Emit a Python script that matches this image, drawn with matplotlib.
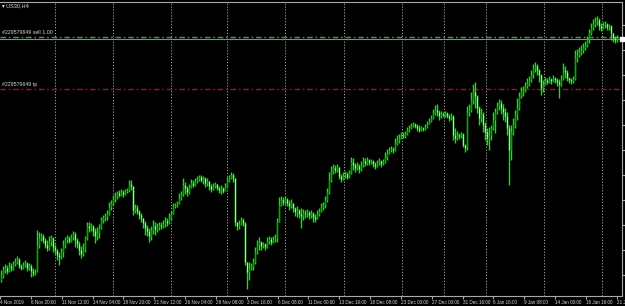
import numpy as np
import matplotlib
matplotlib.use('Agg')
from matplotlib import pyplot as plt
import matplotlib.transforms as mtransforms

# US30 H4 candles (price scale is estimated)
first_open = 27200
closes = [
    27240, 27300, 27320, 27290, 27340, 27320, 27360, 27380, 27410, 27340,
    27320, 27350, 27370, 27320, 27340, 27290, 27270, 27280, 27550, 27620,
    27640, 27600, 27550, 27520, 27580, 27620, 27530, 27500, 27450, 27430,
    27480, 27550, 27600, 27620, 27590, 27630, 27660, 27600, 27560, 27500,
    27460, 27510, 27620, 27740, 27720, 27740, 27690, 27640, 27670, 27720,
    27800, 27820, 27840, 27870, 27930, 27970, 28010, 28040, 28070, 28050,
    28080, 28060, 28090, 28100, 28160, 28140, 27900, 27920, 27890, 27850,
    27820, 27770, 27720, 27690, 27640, 27700, 27740, 27710, 27730, 27750,
    27740, 27760, 27790, 27770, 27820, 27860, 27940, 27950, 27960, 28020,
    28060, 28150, 28120, 28080, 28130, 28170, 28150, 28190, 28210, 28230,
    28200, 28220, 28170, 28190, 28140, 28110, 28140, 28160, 28120, 28100,
    28120, 28090, 28140, 28190, 28220, 28250, 28220, 27780, 27740, 27760,
    27800, 27770, 27380, 27280, 27320, 27340, 27380, 27480, 27550, 27580,
    27540, 27560, 27530, 27590, 27610, 27580, 27610, 27620, 27780, 27950,
    28000, 27980, 28010, 27970, 27940, 27970, 27920, 27880, 27900, 27860,
    27840, 27870, 27860, 27880, 27850, 27870, 27830, 27810, 27860, 27890,
    27930, 27950, 28000, 28080, 28200, 28280, 28320, 28300, 28330, 28240,
    28210, 28240, 28260, 28230, 28270, 28380, 28350, 28320, 28340, 28310,
    28350, 28390, 28370, 28400, 28380, 28390, 28360, 28340, 28370, 28390,
    28360, 28380, 28430, 28470, 28500, 28510, 28500, 28560, 28600, 28620,
    28650, 28640, 28660, 28700, 28720, 28740, 28760, 28740, 28720, 28700,
    28720, 28710, 28730, 28760, 28790, 28820, 28870, 28900, 28880, 28840,
    28860, 28850, 28870, 28840, 28820, 28840, 28650, 28620, 28650, 28640,
    28660, 28550, 28520, 28880, 28900, 29000, 29080, 29040, 28920, 28820,
    28860, 28750, 28680, 28620, 28650, 28720, 28800, 28880, 28940, 28970,
    28920, 28880, 28840, 28720, 28500, 28680, 28750, 28850, 28920, 29040,
    29080, 29100, 29140, 29170, 29200, 29250, 29320, 29340, 29300, 29250,
    29120, 29160, 29200, 29180, 29210, 29190, 29220, 29200, 29180, 29160,
    29210, 29300, 29280, 29220, 29200, 29190, 29210, 29420, 29450, 29480,
    29500, 29530, 29550, 29600, 29670, 29720, 29760, 29790, 29800, 29740,
    29720, 29750, 29760, 29730, 29740, 29670, 29620, 29600, 29620,
]
highs = [
    27300, 27340, 27360, 27350, 27380, 27370, 27390, 27420, 27440, 27420,
    27360, 27380, 27400, 27380, 27370, 27360, 27320, 27310, 27700, 27680,
    27670, 27660, 27620, 27600, 27640, 27650, 27630, 27560, 27510, 27480,
    27520, 27600, 27630, 27650, 27640, 27660, 27690, 27680, 27620, 27590,
    27540, 27570, 27640, 27780, 27780, 27770, 27750, 27720, 27730, 27760,
    27830, 27850, 27870, 27900, 27980, 28000, 28050, 28080, 28090, 28100,
    28110, 28100, 28110, 28120, 28200, 28200, 28140, 27960, 27950, 27900,
    27870, 27820, 27790, 27750, 27720, 27740, 27800, 27780, 27770, 27780,
    27780, 27800, 27830, 27820, 27870, 27890, 27970, 27970, 27990, 28070,
    28090, 28220, 28180, 28140, 28160, 28210, 28200, 28220, 28240, 28250,
    28250, 28240, 28230, 28220, 28180, 28160, 28170, 28180, 28160, 28140,
    28150, 28130, 28170, 28230, 28250, 28280, 28270, 28220, 27780, 27800,
    27830, 27820, 27780, 27380, 27380, 27370, 27420, 27530, 27600, 27630,
    27590, 27580, 27570, 27630, 27640, 27630, 27640, 27660, 27820, 28030,
    28040, 28030, 28040, 28020, 28000, 28010, 27970, 27930, 27940, 27910,
    27920, 27910, 27900, 27910, 27890, 27900, 27880, 27860, 27900, 27920,
    27970, 27980, 28040, 28120, 28280, 28340, 28360, 28350, 28360, 28330,
    28260, 28280, 28290, 28280, 28300, 28430, 28420, 28370, 28380, 28360,
    28390, 28430, 28420, 28430, 28410, 28410, 28400, 28380, 28400, 28420,
    28400, 28410, 28480, 28510, 28530, 28540, 28530, 28620, 28650, 28660,
    28680, 28680, 28690, 28730, 28750, 28770, 28780, 28770, 28760, 28750,
    28740, 28730, 28760, 28790, 28820, 28850, 28910, 28950, 28960, 28900,
    28890, 28880, 28890, 28880, 28860, 28870, 28850, 28720, 28690, 28670,
    28680, 28670, 28560, 28940, 28960, 29080, 29160, 29180, 29050, 28940,
    28920, 28880, 28780, 28720, 28730, 28750, 28880, 28920, 28980, 29010,
    29000, 28960, 28920, 28880, 28750, 28750, 28820, 28900, 29020, 29080,
    29130, 29140, 29180, 29220, 29240, 29300, 29360, 29380, 29360, 29310,
    29260, 29200, 29230, 29220, 29240, 29220, 29250, 29230, 29220, 29210,
    29250, 29370, 29340, 29300, 29230, 29220, 29240, 29500, 29510, 29530,
    29550, 29570, 29590, 29640, 29710, 29770, 29810, 29830, 29840, 29820,
    29770, 29780, 29790, 29770, 29760, 29750, 29670, 29640, 29650,
]
lows = [
    27180, 27220, 27270, 27260, 27280, 27290, 27300, 27340, 27360, 27320,
    27300, 27310, 27330, 27290, 27300, 27230, 27240, 27250, 27280, 27520,
    27590, 27570, 27520, 27490, 27500, 27540, 27480, 27460, 27400, 27350,
    27410, 27430, 27520, 27570, 27570, 27580, 27600, 27530, 27520, 27450,
    27420, 27440, 27480, 27600, 27680, 27690, 27640, 27570, 27600, 27620,
    27710, 27770, 27790, 27800, 27850, 27900, 27950, 27980, 28010, 28030,
    28040, 28030, 28050, 28070, 28080, 28100, 27850, 27870, 27860, 27810,
    27780, 27720, 27650, 27640, 27580, 27600, 27660, 27650, 27680, 27700,
    27710, 27720, 27730, 27740, 27760, 27800, 27860, 27920, 27930, 27960,
    28000, 28040, 28060, 28040, 28060, 28120, 28130, 28140, 28170, 28190,
    28180, 28160, 28130, 28140, 28100, 28080, 28100, 28120, 28100, 28070,
    28060, 28070, 28090, 28130, 28180, 28210, 28180, 27740, 27700, 27710,
    27750, 27740, 27350, 27110, 27200, 27300, 27300, 27360, 27460, 27500,
    27500, 27520, 27500, 27520, 27560, 27550, 27570, 27580, 27580, 27780,
    27940, 27950, 27960, 27940, 27900, 27920, 27880, 27840, 27830, 27820,
    27720, 27800, 27820, 27830, 27810, 27820, 27780, 27780, 27810, 27840,
    27880, 27900, 27920, 27980, 28060, 28180, 28260, 28270, 28280, 28210,
    28180, 28200, 28220, 28210, 28220, 28260, 28300, 28280, 28300, 28270,
    28290, 28330, 28340, 28350, 28350, 28360, 28330, 28310, 28330, 28350,
    28330, 28350, 28370, 28400, 28460, 28480, 28470, 28490, 28550, 28570,
    28610, 28620, 28620, 28650, 28680, 28710, 28730, 28720, 28690, 28680,
    28690, 28690, 28700, 28720, 28760, 28780, 28810, 28850, 28840, 28800,
    28820, 28830, 28830, 28820, 28790, 28800, 28600, 28570, 28600, 28610,
    28620, 28530, 28480, 28500, 28840, 28880, 28960, 28920, 28870, 28750,
    28780, 28680, 28600, 28550, 28500, 28600, 28700, 28670, 28860, 28900,
    28860, 28800, 28780, 28650, 28150, 28400, 28650, 28720, 28800, 28900,
    29020, 29040, 29080, 29120, 29140, 29180, 29220, 29280, 29250, 29180,
    29050, 29080, 29150, 29160, 29170, 29160, 29180, 29170, 29140, 29020,
    29140, 29200, 29220, 29190, 29170, 29160, 29170, 29200, 29380, 29430,
    29450, 29470, 29500, 29530, 29570, 29650, 29700, 29730, 29750, 29700,
    29690, 29710, 29720, 29700, 29700, 29600, 29580, 29570, 29580,
]

# time axis labels (one every ~15.4 bars)
time_labels = [
    '4 Nov 2019', '6 Nov 20:00', '11 Nov 12:00', '14 Nov 04:00', '18 Nov 20:00',
    '21 Nov 12:00', '26 Nov 04:00', '29 Nov 08:00', '3 Dec 16:00', '6 Dec 08:00',
    '11 Dec 00:00', '13 Dec 16:00', '18 Dec 08:00', '23 Dec 00:00', '27 Dec 00:00',
    '31 Dec 16:00', '6 Jan 16:00', '9 Jan 08:00', '14 Jan 00:00', '16 Jan 16:00',
    '21 Jan 08:00',
]
# period separators (bar index)
separators = [27, 56, 85, 113, 142, 171.5, 200.5, 221.5, 242.5, 271.5, 300.5]

# order levels
sell_price = 29630
bid_price = 29610
tp_price = 29110
order_id = '#229579649'

FONT = ['Liberation Sans Narrow', 'Liberation Sans', 'DejaVu Sans']
plt.rcParams['font.family'] = FONT

#--------------------------------------------
fig = plt.figure(figsize=(6.25, 3.06), dpi=100, facecolor='black')
ax = fig.add_axes([0, 10 / 306, 622 / 625, 294 / 306])
ax.set_facecolor('black')

closes = np.array(closes)
opens = np.r_[first_open, closes[:-1]]
hi = np.maximum(highs, np.maximum(opens, closes))
lo = np.minimum(lows, np.minimum(opens, closes))
x = np.arange(len(closes))

# separators behind the bars
for s in separators:
    ax.axvline(s, color='#a8a8a8', lw=0.7, ls=(0, (1.2, 1.8)), zorder=0.5)

# bars: lime range, bull body darker green, bear body light green
ax.vlines(x, lo, hi, color='#00f000', lw=1.0, zorder=2)
up = closes >= opens
ax.vlines(x[up], opens[up], closes[up], color='#00a800', lw=0.9, zorder=3)
ax.vlines(x[~up], closes[~up], opens[~up], color='#8cff8c', lw=0.9, zorder=3)

# order lines
ax.axhline(sell_price, color='#2ea83a', lw=1.0, ls=(0, (4, 2, 1.2, 2)), zorder=1)
ax.axhline(bid_price, color='#8c8c8c', lw=0.8, zorder=1)
ax.axhline(tp_price, color='#b01010', lw=1.0, ls=(0, (4, 2, 1.2, 2)), zorder=1)
tr = mtransforms.blended_transform_factory(ax.transAxes, ax.transData)
ax.annotate(order_id + ' sell 1.00', (0.003, sell_price), xycoords=tr,
            xytext=(0, 1.2), textcoords='offset points', va='bottom',
            color='#d8d8d8', fontsize=3.8)
ax.annotate(order_id + ' tp', (0.003, tp_price), xycoords=tr,
            xytext=(0, 1.5), textcoords='offset points', va='bottom',
            color='#d8d8d8', fontsize=3.8)
ax.plot([1.0], [bid_price], marker='s', ms=2.2, color='white', transform=tr,
        clip_on=False, zorder=5)

# title
fig.text(2 / 625, 1 - 6 / 306, '\u25be US30,H4', va='center', ha='left',
         color='#e0e0e0', fontsize=4.0, family=FONT)

# axes
ax.set_xlim(-0.5, 310.5)
ax.set_ylim(27040, 29980)
ax.spines['left'].set_visible(False)
for side in ['top', 'right', 'bottom']:
    ax.spines[side].set_color('#a8a8a8')
    ax.spines[side].set_linewidth(0.8)
ax.set_xticks(np.arange(len(time_labels)) * 15.42 - 0.5, time_labels, ha='left')
ax.tick_params(axis='x', direction='out', length=2, colors='#a8a8a8',
               labelcolor='#d8d8d8', labelsize=3.3, pad=1)
ax.yaxis.tick_right()
ax.set_yticks(np.arange(27250, 29800, 250), [])
ax.tick_params(axis='y', direction='out', length=2, colors='#a8a8a8')

fig.savefig('out.png', dpi=100, facecolor='black')
